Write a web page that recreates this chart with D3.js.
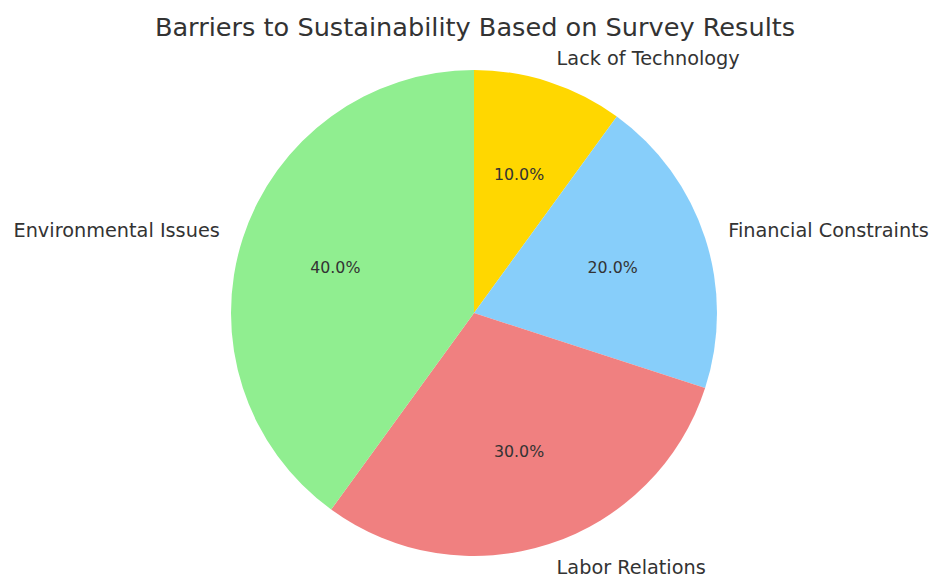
<!DOCTYPE html>
<html>
<head>
<meta charset="utf-8">
<script src="https://cdn.jsdelivr.net/npm/d3@7"></script>
<style>
  html, body { margin: 0; padding: 0; background: #fff; }
  svg { display: block; font-family: "DejaVu Sans", sans-serif; }
</style>
</head>
<body>
<svg id="chart" width="933" height="576"></svg>
<script>
// Survey shares, listed clockwise from 12 o'clock
const categories = ["Lack of Technology", "Financial Constraints", "Labor Relations", "Environmental Issues"];
const shares = [10, 20, 30, 40];
const sliceColors = ["#FFD700", "#87CEFA", "#F08080", "#90EE90"];
const chartTitle = "Barriers to Sustainability Based on Survey Results";

const svg = d3.select("#chart");
const cx = 474, cy = 313, radius = 243;

svg.append("text")
  .attr("x", 475).attr("y", 27)
  .attr("text-anchor", "middle")
  .attr("dominant-baseline", "central")
  .attr("font-size", 25.6)
  .attr("fill", "#333")
  .text(chartTitle);

const data = categories.map((c, i) => ({ name: c, value: shares[i], color: sliceColors[i] }));
const pie = d3.pie().value(d => d.value).sort(null);
const arcs = pie(data);
const total = d3.sum(shares);

const arc = d3.arc().innerRadius(0).outerRadius(radius);
const g = svg.append("g").attr("transform", `translate(${cx},${cy})`);

g.selectAll("path").data(arcs).join("path")
  .attr("d", arc)
  .attr("fill", d => d.data.color);

// position on a ray through the middle of a slice, at a fraction of the radius
function at(d, k) {
  const a = (d.startAngle + d.endAngle) / 2;
  return [Math.sin(a) * radius * k, -Math.cos(a) * radius * k];
}

g.selectAll("text.pct").data(arcs).join("text")
  .attr("class", "pct")
  .attr("x", d => at(d, 0.6)[0])
  .attr("y", d => at(d, 0.6)[1])
  .attr("text-anchor", "middle")
  .attr("dominant-baseline", "central")
  .attr("font-size", 15.8)
  .attr("fill", "#333")
  .text(d => (d.data.value / total * 100).toFixed(1) + "%");

g.selectAll("text.lbl").data(arcs).join("text")
  .attr("class", "lbl")
  .attr("x", d => at(d, 1.1)[0])
  .attr("y", d => at(d, 1.1)[1])
  .attr("text-anchor", d => at(d, 1.1)[0] >= 0 ? "start" : "end")
  .attr("dominant-baseline", "central")
  .attr("font-size", 19.3)
  .attr("fill", "#333")
  .text(d => d.data.name);
</script>
</body>
</html>
